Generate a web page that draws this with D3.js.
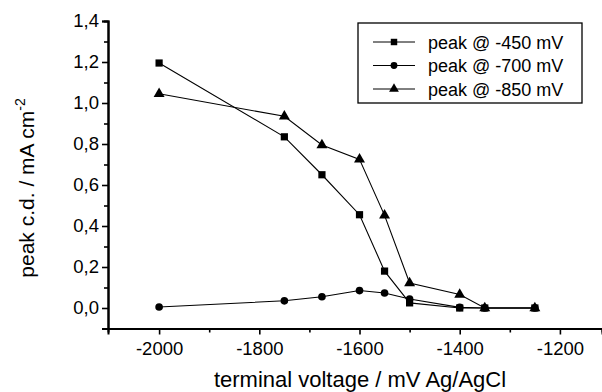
<!DOCTYPE html>
<html>
<head>
<meta charset="utf-8">
<script src="https://cdn.jsdelivr.net/npm/d3@7"></script>
<style>
  body { margin: 0; background: #fff; }
  text { font-family: "Liberation Sans", Arial, sans-serif; fill: #000; }
</style>
</head>
<body>
<div id="chart"></div>
<script>

// DATA
let voltages = [-2000, -1750, -1675, -1600, -1550, -1500, -1400, -1350, -1250];
let peak450 = [1.195, 0.835, 0.65, 0.455, 0.18, 0.025, 0.0, 0.0, 0.0];
let peak700 = [0.005, 0.035, 0.055, 0.085, 0.073, 0.044, 0.003, 0.0, 0.0];
let peak850 = [1.045, 0.935, 0.795, 0.725, 0.452, 0.122, 0.066, 0.0, 0.0];
let seriesNames = ["peak @ -450 mV", "peak @ -700 mV", "peak @ -850 mV"];
let xTicks = [-2000, -1800, -1600, -1400, -1200];
let xMinor = [-1900, -1700, -1500, -1300];
let yTicks = [0.0, 0.2, 0.4, 0.6, 0.8, 1.0, 1.2, 1.4];
let yMinor = [0.1, 0.3, 0.5, 0.7, 0.9, 1.1, 1.3];

let series = [
    {name: seriesNames[0], values: peak450, symbol: d3.symbolSquare, size: 52},
    {name: seriesNames[1], values: peak700, symbol: d3.symbolCircle, size: 46},
    {name: seriesNames[2], values: peak850, symbol: d3.symbolTriangle, size: 52}
];

// CHART AREA
let width = 602, height = 392;

let svg = d3.select("#chart").append("svg")
    .attr("width", width)
    .attr("height", height);

let x = d3.scaleLinear()
    .domain([-2102, -1116])
    .range([108, 602]);

let y = d3.scaleLinear()
    .domain([-0.1, 1.4])
    .range([328.5, 21]);

let comma = d3.formatLocale({decimal: ",", thousands: ".", grouping: [3], currency: ["", ""], minus: "-"});

// AXIS
let xAxis = d3.axisBottom(x)
    .tickValues(xTicks)
    .tickSize(6)
    .tickPadding(7)
    .tickFormat(d => String(d));

let xAxisMinor = d3.axisBottom(x)
    .tickValues(xMinor)
    .tickSize(4)
    .tickFormat("");

let yAxis = d3.axisLeft(y)
    .tickValues(yTicks)
    .tickSize(6)
    .tickPadding(3)
    .tickFormat(comma.format(".1f"));

let yAxisMinor = d3.axisLeft(y)
    .tickValues(yMinor)
    .tickSize(4)
    .tickFormat("");

let axisY0 = y.range()[0];
let axisX0 = x.range()[0];

svg.append("g")
    .attr("class", "x-axis axis")
    .attr("transform", "translate(0," + axisY0 + ")")
    .call(xAxis);

svg.append("g")
    .attr("class", "x-axis-minor axis")
    .attr("transform", "translate(0," + axisY0 + ")")
    .call(xAxisMinor);

svg.append("g")
    .attr("class", "y-axis axis")
    .attr("transform", "translate(" + axisX0 + ",0)")
    .call(yAxis);

svg.append("g")
    .attr("class", "y-axis-minor axis")
    .attr("transform", "translate(" + axisX0 + ",0)")
    .call(yAxisMinor);

svg.selectAll(".axis .domain")
    .attr("stroke", "#000")
    .attr("stroke-width", 2);

svg.selectAll(".axis .tick line")
    .attr("stroke", "#000")
    .attr("stroke-width", 1.6);

svg.selectAll(".axis .tick text")
    .attr("font-size", 18.5)
    .attr("font-family", "Liberation Sans, Arial, sans-serif")
    .attr("fill", "#000");

// AXIS TITLES
svg.append("text")
    .attr("x", 360)
    .attr("y", 387)
    .attr("text-anchor", "middle")
    .attr("font-size", 22)
    .text("terminal voltage / mV Ag/AgCl");

let yTitle = svg.append("text")
    .attr("transform", "translate(34,188) rotate(-90)")
    .attr("text-anchor", "middle")
    .attr("font-size", 21);
yTitle.append("tspan").text("peak c.d. / mA cm");
yTitle.append("tspan")
    .attr("dy", -9)
    .attr("font-size", 14)
    .text("-2");

// ---- DRAW LINES ----
let line = d3.line()
    .x((d, i) => x(voltages[i]))
    .y(d => y(d));

series.forEach(s => {
    svg.append("path")
        .datum(s.values)
        .attr("fill", "none")
        .attr("stroke", "#000")
        .attr("stroke-width", 1.1)
        .attr("d", line);
});

series.forEach(s => {
    svg.selectAll(null)
        .data(s.values)
        .enter()
        .append("path")
        .attr("transform", (d, i) => "translate(" + x(voltages[i]) + "," + y(d) + ")")
        .attr("d", d3.symbol().type(s.symbol).size(s.size))
        .attr("fill", "#000");
});

// LEGEND
let legend = svg.append("g")
    .attr("transform", "translate(358,23)");

legend.append("rect")
    .attr("width", 224)
    .attr("height", 80)
    .attr("fill", "#fff")
    .attr("stroke", "#000")
    .attr("stroke-width", 1.3);

series.forEach((s, i) => {
    let row = legend.append("g")
        .attr("transform", "translate(0," + (19 + i * 23.5) + ")");
    row.append("line")
        .attr("x1", 15)
        .attr("x2", 57)
        .attr("stroke", "#000")
        .attr("stroke-width", 1);
    row.append("path")
        .attr("transform", "translate(36,0)")
        .attr("d", d3.symbol().type(s.symbol).size(s.size * 0.8))
        .attr("fill", "#000");
    row.append("text")
        .attr("x", 70)
        .attr("y", 6.5)
        .attr("font-size", 18)
        .text(s.name);
});

</script>
</body>
</html>
